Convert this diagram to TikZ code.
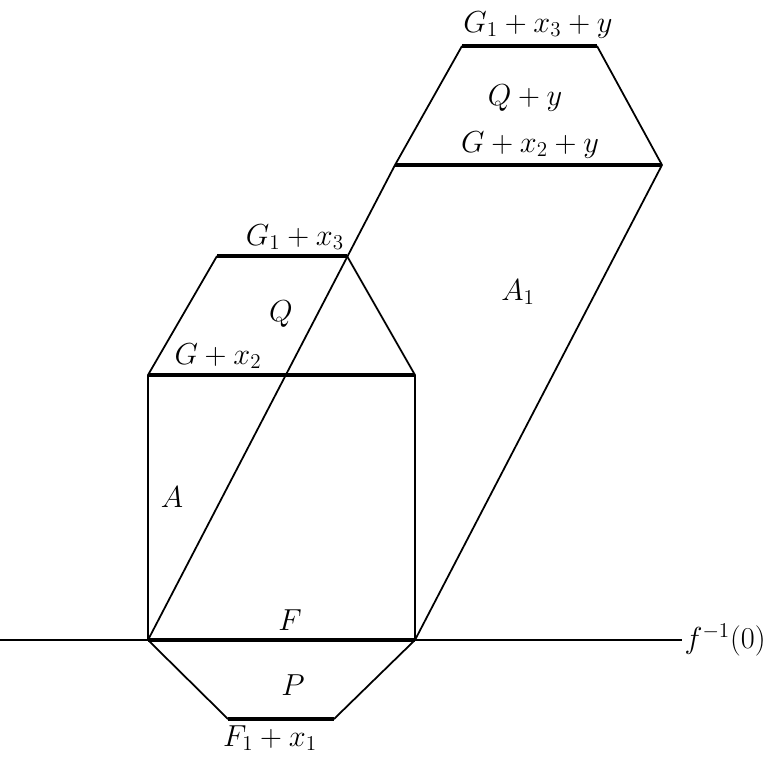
\documentclass[tikz,border=0pt]{standalone}
\usetikzlibrary{positioning}

\begin{document}
\begin{tikzpicture}[
      side/.style={line width=1pt, line join=round},
      level/.style={line width=1.9pt},
      lbl/.style={font=\fontsize{17.28}{20}\selectfont, inner sep=1pt}
   ]
      \useasboundingbox (0,0) rectangle (15.38,-15.12);
      % Corners
      \coordinate (O)   at (2.96,-12.8);
      \coordinate (R)   at (8.30,-12.8);
      \coordinate (Pa)  at (4.56,-14.38);
      \coordinate (Pb)  at (6.68,-14.38);
      \coordinate (Ga)  at (2.96,-7.5);
      \coordinate (Gb)  at (8.30,-7.5);
      \coordinate (Ka)  at (4.34,-5.12);
      \coordinate (Kb)  at (6.94,-5.12);
      \coordinate (Ha)  at (7.90,-3.3);
      \coordinate (Hb)  at (13.24,-3.3);
      \coordinate (Ta)  at (9.24,-0.92);
      \coordinate (Tb)  at (11.94,-0.92);
      \coordinate (Xl)  at (0,-12.8);
      \coordinate (Xr)  at (13.64,-12.8);
      % Level f^{-1}(0)
      \draw[side] (Xl) -- (Xr)
         node[right, lbl] (fzero) {$f^{-1}(0)$};
      % Box A with Q on top and P below
      \draw[side] (O) -- (Ga) -- (Ka);
      \draw[side] (Kb) -- (Gb) -- (R);
      \draw[side] (O) -- (Pa);
      \draw[side] (Pb) -- (R);
      % Parallelogram A_1 with Q+y on top
      \draw[side] (O) -- (Ha) -- (Ta);
      \draw[side] (Tb) -- (Hb) -- (R);
      % Thick levels
      \draw[level] (O) -- (R);
      \draw[level] (Pa) -- (Pb);
      \draw[level] (Ga) -- (Gb);
      \draw[level] (Ka) -- (Kb);
      \draw[level] (Ha) -- (Hb);
      \draw[level] (Ta) -- (Tb);
      % Labels
      \node[lbl] (topy) at (10.76,-0.5)  {$G_1 + x_3 + y$};
      \node[lbl] (Qy)   at (10.5,-1.96)  {$Q + y$};
      \node[lbl] (Gy)   at (10.6,-2.9)   {$G + x_2 + y$};
      \node[lbl] (Aone) at (10.36,-5.84) {$A_1$};
      \node[lbl] (top)  at (5.9,-4.74)   {$G_1 + x_3$};
      \node[lbl] (Q)    at (5.62,-6.28)  {$Q$};
      \node[lbl] (G)    at (4.36,-7.12)  {$G + x_2$};
      \node[lbl] (A)    at (3.44,-9.94)  {$A$};
      \node[lbl] (F)    at (5.8,-12.4)   {$F$};
      \node[lbl] (P)    at (5.86,-13.7)  {$P$};
      \node[lbl] (Fone) at (5.4,-14.76)  {$F_1 + x_1$};
   \end{tikzpicture}
\end{document}
